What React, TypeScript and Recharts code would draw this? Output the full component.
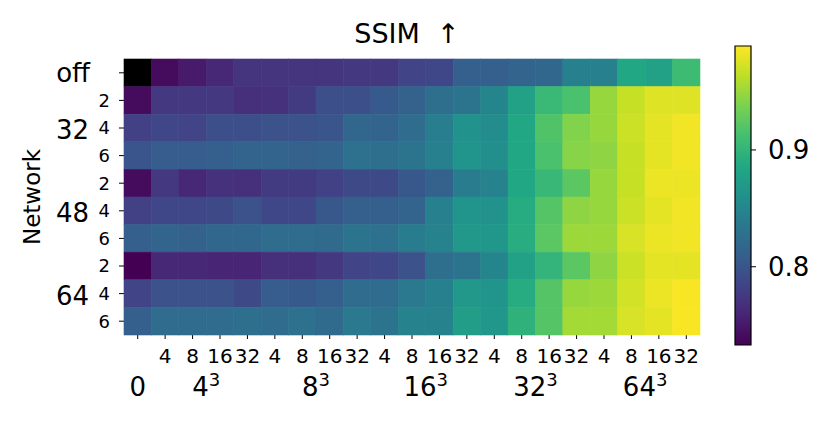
import React from "react";
import {
  ScatterChart,
  Scatter,
  XAxis,
  YAxis,
  ReferenceLine,
  ComposedChart,
  Line,
  ReferenceArea,
} from "recharts";

// SSIM per cell, rows top to bottom, columns left to right (null = not run)
const rowOff = [null, 0.741, 0.751, 0.762, 0.772, 0.772, 0.772, 0.772, 0.775, 0.775, 0.785, 0.787, 0.81, 0.81, 0.815, 0.818, 0.844, 0.844, 0.885, 0.879, 0.908];
const row32x2 = [0.741, 0.775, 0.775, 0.775, 0.767, 0.769, 0.777, 0.795, 0.795, 0.805, 0.813, 0.826, 0.831, 0.849, 0.879, 0.905, 0.915, 0.949, 0.967, 0.977, 0.977];
const row32x4 = [0.782, 0.787, 0.785, 0.795, 0.795, 0.798, 0.798, 0.8, 0.818, 0.815, 0.823, 0.841, 0.862, 0.856, 0.885, 0.918, 0.941, 0.949, 0.969, 0.979, 0.984];
const row32x6 = [0.8, 0.808, 0.808, 0.81, 0.815, 0.815, 0.813, 0.815, 0.828, 0.826, 0.831, 0.844, 0.864, 0.859, 0.885, 0.915, 0.943, 0.946, 0.967, 0.979, 0.984];
const row48x2 = [0.741, 0.775, 0.762, 0.769, 0.767, 0.777, 0.777, 0.782, 0.79, 0.79, 0.803, 0.813, 0.839, 0.846, 0.885, 0.903, 0.923, 0.949, 0.967, 0.982, 0.982];
const row48x4 = [0.782, 0.787, 0.787, 0.79, 0.798, 0.787, 0.787, 0.803, 0.81, 0.81, 0.815, 0.844, 0.864, 0.862, 0.89, 0.92, 0.946, 0.949, 0.969, 0.979, 0.984];
const row48x6 = [0.81, 0.815, 0.813, 0.818, 0.818, 0.823, 0.823, 0.821, 0.831, 0.828, 0.839, 0.846, 0.869, 0.867, 0.892, 0.923, 0.951, 0.951, 0.974, 0.982, 0.984];
const row64x2 = [0.731, 0.762, 0.762, 0.759, 0.759, 0.767, 0.767, 0.775, 0.785, 0.787, 0.798, 0.826, 0.831, 0.849, 0.879, 0.9, 0.923, 0.946, 0.969, 0.979, 0.979];
const row64x4 = [0.785, 0.798, 0.798, 0.798, 0.79, 0.808, 0.805, 0.81, 0.823, 0.823, 0.836, 0.844, 0.869, 0.864, 0.89, 0.92, 0.949, 0.951, 0.972, 0.982, 0.987];
const row64x6 = [0.81, 0.823, 0.823, 0.823, 0.826, 0.823, 0.828, 0.821, 0.836, 0.831, 0.846, 0.846, 0.874, 0.867, 0.897, 0.92, 0.954, 0.954, 0.974, 0.979, 0.987];

const rows = [rowOff, row32x2, row32x4, row32x6, row48x2, row48x4, row48x6, row64x2, row64x4, row64x6];

// tick labels
const yGroups = ["off", "32", "48", "64"];
const ySub = ["2", "4", "6"];
const xGroups = ["0", "4", "8", "16", "32", "64"];
const xSub = ["4", "8", "16", "32"];
const cbTicks = [0.8, 0.9];

const CB_MIN = 0.733;
const CB_MAX = 0.989;

const viridis = ["#440154", "#482475", "#414487", "#355f8d", "#2a788e", "#21918c", "#22a884", "#44bf70", "#7ad151", "#bddf26", "#fde725"];

const FONT = "'DejaVu Sans', sans-serif";
const BIG = 26;
const SMALL_X = 20;
const SMALL_Y = 18;
const NCOLS = rows[0].length;
const NROWS = rows.length;
const PLOT_W = 576;
const PLOT_H = 276;
const CELL_W = PLOT_W / NCOLS;
const CELL_H = PLOT_H / NROWS;

const hex = (h: string) => [1, 3, 5].map((i) => parseInt(h.slice(i, i + 2), 16));

const colorFor = (v: number | null) => {
  if (v == null) return "#000000";
  let t = (v - CB_MIN) / (CB_MAX - CB_MIN);
  t = Math.max(0, Math.min(1, t));
  const p = t * (viridis.length - 1);
  const i = Math.min(Math.floor(p), viridis.length - 2);
  const f = p - i;
  const a = hex(viridis[i]);
  const b = hex(viridis[i + 1]);
  const c = a.map((x, k) => Math.round(x + (b[k] - x) * f));
  return `rgb(${c[0]},${c[1]},${c[2]})`;
};

const cells = rows.flatMap((r, ri) => r.map((v, ci) => ({ x: ci, y: ri, v })));

const Cell = (props: any) => {
  const { cx, cy, payload } = props;
  const fill = colorFor(payload.v);
  return (
    <rect
      x={cx - CELL_W / 2}
      y={cy - CELL_H / 2}
      width={CELL_W}
      height={CELL_H}
      fill={fill}
      stroke={fill}
      strokeWidth={0.6}
    />
  );
};

const YTick = (props: any) => {
  const { x, y, payload } = props;
  const i = payload.value as number;
  if (i === 0) {
    return (
      <text x={x - 20} y={y} dy="0.36em" textAnchor="end" fontSize={BIG} fontFamily={FONT} fill="#000">
        {yGroups[0]}
      </text>
    );
  }
  const sub = (i - 1) % 3;
  const grp = Math.floor((i - 1) / 3) + 1;
  return (
    <g>
      <text x={x} y={y} dy="0.36em" textAnchor="end" fontSize={SMALL_Y} fontFamily={FONT} fill="#000">
        {ySub[sub]}
      </text>
      {sub === 1 && (
        <text x={x - 21} y={y + 2} dy="0.36em" textAnchor="end" fontSize={BIG} fontFamily={FONT} fill="#000">
          {yGroups[grp]}
        </text>
      )}
    </g>
  );
};

const XTick = (props: any) => {
  const { x, y, payload } = props;
  const i = payload.value as number;
  if (i === 0) {
    return (
      <text x={x} y={y + 55} textAnchor="middle" fontSize={BIG} fontFamily={FONT} fill="#000">
        {xGroups[0]}
      </text>
    );
  }
  const sub = (i - 1) % 4;
  const grp = Math.floor((i - 1) / 4) + 1;
  return (
    <g>
      <text x={x} y={y + 22} textAnchor="middle" fontSize={SMALL_X} fontFamily={FONT} fill="#000">
        {xSub[sub]}
      </text>
      {sub === 1 && (
        <text x={x + CELL_W / 2} y={y + 55} textAnchor="middle" fontSize={BIG} fontFamily={FONT} fill="#000">
          {xGroups[grp]}
          <tspan dy={-10} fontSize={18}>3</tspan>
        </text>
      )}
    </g>
  );
};

const cbData = [
  { x: 0, y: CB_MIN },
  { x: 1, y: CB_MAX },
];

export default function App() {
  return (
    <div style={{ position: "absolute", left: 0, top: 0, width: 830, height: 428, background: "#fff" }}>
      <svg width={0} height={0} style={{ position: "absolute" }}>
        <defs>
          <linearGradient id="viridisGrad" x1="0" y1="1" x2="0" y2="0">
            {viridis.map((c, i) => (
              <stop key={i} offset={i / (viridis.length - 1)} stopColor={c} />
            ))}
          </linearGradient>
        </defs>
      </svg>
      <ScatterChart
        width={830}
        height={428}
        margin={{ top: 59, right: 130, bottom: 0, left: 0 }}
        style={{ position: "absolute", left: 0, top: 0 }}
      >
        <XAxis
          type="number"
          dataKey="x"
          domain={[-0.5, NCOLS - 0.5]}
          ticks={rows[0].map((_, i) => i)}
          interval={0}
          height={93}
          axisLine={false}
          tickSize={4}
          tickMargin={2}
          tickLine={{ stroke: "#000", strokeWidth: 1 }}
          tick={<XTick />}
        />
        <YAxis
          type="number"
          dataKey="y"
          domain={[-0.5, NROWS - 0.5]}
          reversed
          ticks={rows.map((_, i) => i)}
          interval={0}
          width={124}
          axisLine={false}
          tickSize={5}
          tickMargin={9}
          tickLine={{ stroke: "#000", strokeWidth: 1 }}
          tick={<YTick />}
        />
        <Scatter data={cells} shape={<Cell />} isAnimationActive={false} />
        <ReferenceLine x={0.5} stroke="#ececf0" strokeWidth={1.3} />
        <ReferenceLine y={0.5} stroke="#ececf0" strokeWidth={1.3} />
      </ScatterChart>
      <ComposedChart
        width={130}
        height={428}
        data={cbData}
        margin={{ top: 46, right: 0, bottom: 83, left: 35 }}
        style={{ position: "absolute", left: 700, top: 0 }}
      >
        <XAxis type="number" dataKey="x" domain={[0, 1]} hide height={0} />
        <YAxis
          type="number"
          orientation="right"
          domain={[CB_MIN, CB_MAX]}
          ticks={cbTicks}
          width={79}
          axisLine={false}
          tickSize={5}
          tickMargin={12}
          tickLine={{ stroke: "#000", strokeWidth: 1 }}
          tickFormatter={(v: number) => v.toFixed(1)}
          tick={{ fill: "#000", fontSize: BIG, fontFamily: FONT }}
        />
        <ReferenceArea
          x1={0}
          x2={1}
          y1={CB_MIN}
          y2={CB_MAX}
          fill="url(#viridisGrad)"
          fillOpacity={1}
          stroke="#000"
          strokeWidth={1.2}
        />
        <Line dataKey="y" stroke="none" dot={false} activeDot={false} isAnimationActive={false} />
      </ComposedChart>
      <svg width={830} height={428} style={{ position: "absolute", left: 0, top: 0, pointerEvents: "none" }}>
        <text x={407} y={43} textAnchor="middle" fontSize={27} fontFamily={FONT} fill="#000" style={{ whiteSpace: "pre" }}>
          {"SSIM  ↑"}
        </text>
        <text
          transform="translate(40,197) rotate(-90)"
          textAnchor="middle"
          fontSize={23}
          fontFamily={FONT}
          fill="#000"
        >
          Network
        </text>
      </svg>
    </div>
  );
}
